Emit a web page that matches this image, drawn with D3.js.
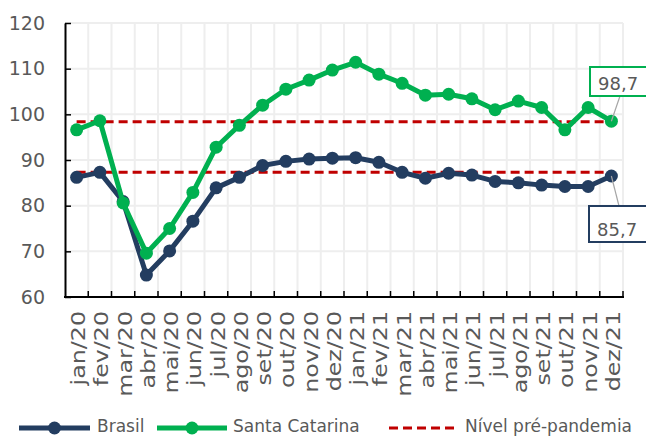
<!DOCTYPE html>
<html>
<head>
<meta charset="utf-8">
<script src="https://cdn.jsdelivr.net/npm/d3@7"></script>
<style>
  html, body { margin: 0; padding: 0; background: #fff; }
  svg text { font-family: "DejaVu Sans", sans-serif; fill: #595959; }
</style>
</head>
<body>
<div id="container"></div>
<script>
const width = 646;
const height = 436;

// dados
const months = ["jan/20", "fev/20", "mar/20", "abr/20", "mai/20", "jun/20", "jul/20", "ago/20",
  "set/20", "out/20", "nov/20", "dez/20", "jan/21", "fev/21", "mar/21", "abr/21", "mai/21",
  "jun/21", "jul/21", "ago/21", "set/21", "out/21", "nov/21", "dez/21"];
const brasil = [86.2, 87.3, 80.9, 64.8, 70.1, 76.6, 83.9, 86.2, 88.8, 89.7, 90.2, 90.4,
  90.5, 89.5, 87.3, 86.0, 87.1, 86.7, 85.3, 85.0, 84.5, 84.2, 84.2, 86.5];
const santaCatarina = [96.6, 98.6, 80.6, 69.6, 75.0, 82.9, 92.8, 97.6, 102.0, 105.5, 107.5, 109.7,
  111.4, 108.8, 106.8, 104.2, 104.4, 103.4, 101.0, 102.9, 101.5, 96.6, 101.5, 98.5];
const preBrasil = 87.3;
const preSC = 98.4;
const yTicks = [60, 70, 80, 90, 100, 110, 120];
const endLabels = ["98,7", "85,7"];
const legendNames = ["Brasil", "Santa Catarina", "Nível pré-pandemia"];

const navy = "#233d60";
const green = "#00b050";
const red = "#c00000";

const svg = d3.select("#container").append("svg")
  .attr("width", width)
  .attr("height", height);

const mLeft = 65, mRight = 623, mTop = 23, mBottom = 297;

const x = d3.scaleBand().domain(months).range([mLeft, mRight]).paddingInner(0).paddingOuter(0);
const y = d3.scaleLinear().domain([60, 120]).range([mBottom, mTop]);
const cx = (d) => x(d) + x.bandwidth() / 2;

const bounds = months.map((m) => x(m)).concat([mRight]);

// grade
svg.append("g").selectAll("line")
  .data(yTicks.slice(1))
  .join("line")
  .attr("x1", mLeft).attr("x2", mRight)
  .attr("y1", (d) => y(d)).attr("y2", (d) => y(d))
  .attr("stroke", "#eeeeee").attr("stroke-width", 2);
svg.append("g").selectAll("line")
  .data(bounds.slice(1))
  .join("line")
  .attr("x1", (d) => d).attr("x2", (d) => d)
  .attr("y1", mTop).attr("y2", mBottom)
  .attr("stroke", "#eeeeee").attr("stroke-width", 2);

// eixo y
const yAxis = svg.append("g")
  .attr("transform", `translate(${mLeft},0)`)
  .call(d3.axisLeft(y).tickValues(yTicks).tickSizeInner(-6).tickSizeOuter(0).tickPadding(20));
yAxis.select(".domain").attr("stroke", "#000").attr("stroke-width", 2);
yAxis.selectAll(".tick line").attr("stroke", "#000").attr("stroke-width", 1.5);
yAxis.selectAll(".tick text")
  .style("font-size", "19px")
  .attr("fill", "#595959");

// eixo x
svg.append("line")
  .attr("x1", mLeft - 1).attr("x2", mRight + 1)
  .attr("y1", mBottom).attr("y2", mBottom)
  .attr("stroke", "#000").attr("stroke-width", 2);
svg.append("g").selectAll("line")
  .data(bounds.slice(1))
  .join("line")
  .attr("x1", (d) => d).attr("x2", (d) => d)
  .attr("y1", mBottom - 6).attr("y2", mBottom)
  .attr("stroke", "#000").attr("stroke-width", 1.5);
svg.append("g").selectAll("text")
  .data(months)
  .join("text")
  .attr("transform", (d) => `translate(${cx(d) + 8.5},311) rotate(-90) scale(1.25,1)`)
  .attr("text-anchor", "end")
  .style("font-size", "19px")
  .text((d) => d);

// nível pré-pandemia
const first = months[0], last = months[months.length - 1];
svg.append("g").selectAll("line")
  .data([preSC, preBrasil])
  .join("line")
  .attr("x1", cx(first)).attr("x2", cx(last))
  .attr("y1", (d) => y(d)).attr("y2", (d) => y(d))
  .attr("stroke", red).attr("stroke-width", 3)
  .attr("stroke-dasharray", "9,5");

// séries
const line = d3.line().x((d, i) => cx(months[i])).y((d) => y(d));
[[brasil, navy], [santaCatarina, green]].forEach(([vals, color]) => {
  svg.append("path")
    .datum(vals)
    .attr("d", line)
    .attr("fill", "none")
    .attr("stroke", color)
    .attr("stroke-width", 5)
    .attr("stroke-linejoin", "round");
  svg.append("g").selectAll("circle")
    .data(vals)
    .join("circle")
    .attr("cx", (d, i) => cx(months[i]))
    .attr("cy", (d) => y(d))
    .attr("r", 6.5)
    .attr("fill", color);
});

// rótulos finais
const lx = cx(last);
const labels = [
  { text: endLabels[0], color: green, py: y(santaCatarina[23]), bx: 590, by: 67, bh: 29, tx: 620, ty: 96 },
  { text: endLabels[1], color: navy, py: y(brasil[23]), bx: 589, by: 206, bh: 36, tx: 619, ty: 206 }
];
labels.forEach((l) => {
  svg.append("line")
    .attr("x1", lx).attr("y1", l.py)
    .attr("x2", l.tx).attr("y2", l.ty)
    .attr("stroke", "#a6a6a6").attr("stroke-width", 1.2);
  svg.append("rect")
    .attr("x", l.bx).attr("y", l.by)
    .attr("width", 60).attr("height", l.bh)
    .attr("fill", "#fff")
    .attr("stroke", l.color).attr("stroke-width", 2);
  svg.append("text")
    .attr("x", l.bx + 8).attr("y", l.by + l.bh - 6)
    .style("font-size", "18px")
    .attr("fill", "#404040")
    .text(l.text);
});

// legenda
const ly = 428;
const leg = svg.append("g");
[[19, 90, navy], [157, 227, green]].forEach(([x1, x2, color]) => {
  leg.append("line")
    .attr("x1", x1).attr("x2", x2).attr("y1", ly).attr("y2", ly)
    .attr("stroke", color).attr("stroke-width", 5);
  leg.append("circle")
    .attr("cx", (x1 + x2) / 2).attr("cy", ly).attr("r", 6.5).attr("fill", color);
});
leg.append("line")
  .attr("x1", 389).attr("x2", 459).attr("y1", ly).attr("y2", ly)
  .attr("stroke", red).attr("stroke-width", 3)
  .attr("stroke-dasharray", "9,5");
[[97, legendNames[0]], [233, legendNames[1]], [465, legendNames[2]]].forEach(([tx, t]) => {
  leg.append("text")
    .attr("x", tx).attr("y", 432)
    .style("font-size", "17px")
    .text(t);
});
</script>
</body>
</html>
